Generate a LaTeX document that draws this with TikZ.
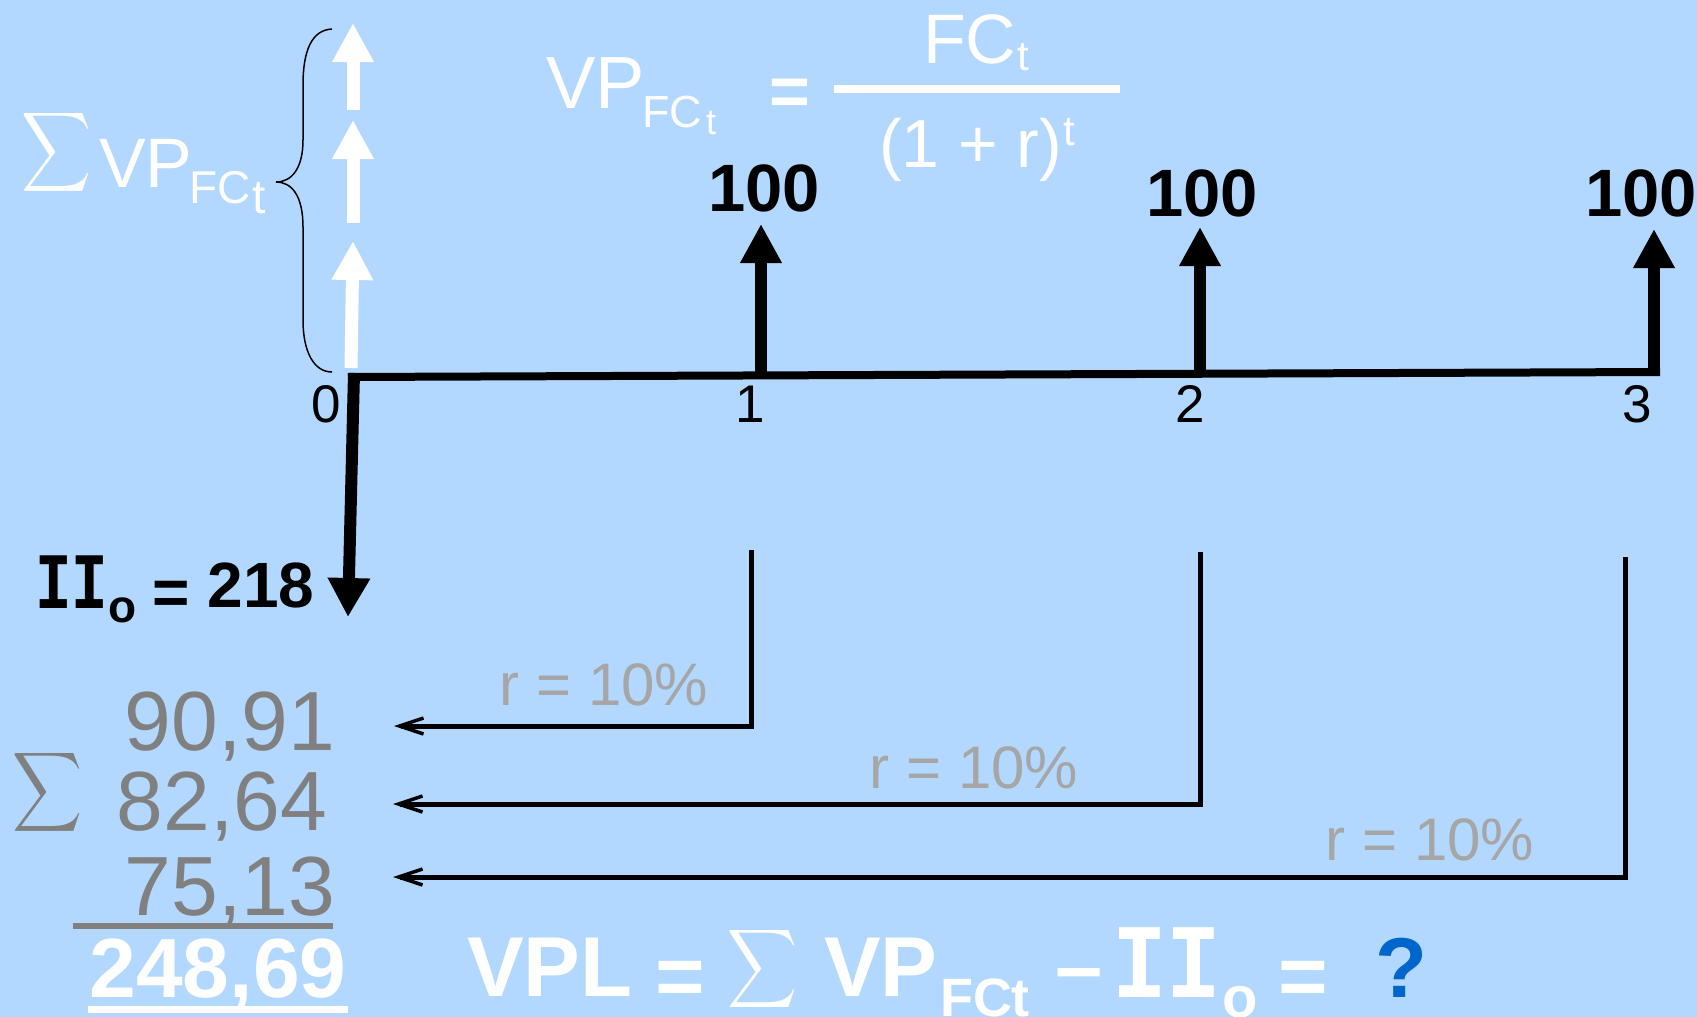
\documentclass[tikz,border=0pt]{standalone}
\usepackage{fontspec}
\setmainfont{Liberation Sans}
\newfontfamily\monofont{Liberation Mono}
\usepackage{graphicx}
\usetikzlibrary{arrows.meta}
\definecolor{bg}{RGB}{178,216,255}
\definecolor{numgray}{RGB}{128,128,128}
\definecolor{rategray}{RGB}{166,166,166}
\definecolor{qblue}{RGB}{0,102,204}
\newcommand\fsz[1]{\fontsize{#1}{#1}\selectfont}
\begin{document}
\begin{tikzpicture}[x=1pt,y=-1pt,
  txt/.style={inner sep=0pt,outer sep=0pt},
  bigup/.style={line width=12pt,-{Triangle[length=39pt,width=39pt]}},
  whiteup/.style={white,line width=13pt,-{Triangle[length=39pt,width=39pt]}},
  link/.style={line width=5pt,-{Straight Barb[length=24pt,width=16pt,line width=3.5pt]}},
]
\fill[bg] (0,0) rectangle (1697,1017);
\useasboundingbox (0,0) rectangle (1697,1017);

% ---- top-left sum of present values
\node[txt,anchor=north west,white] (sumTL) at (21,108) {\resizebox*{70pt}{89pt}{$\displaystyle\sum$}};
\node[txt,anchor=base west,white,font=\fsz{70}] (vpTL) at (99,187) {VP};
\node[txt,anchor=base west,white,font=\fsz{46}] (fcTL) at (189,203) {FC};
\node[txt,anchor=base west,white,font=\fsz{48}] (tTL) at (252,213) {t};

% brace
\coordinate (brT) at (332,29);
\coordinate (brM) at (276,182);
\coordinate (brB) at (332,372);
\draw[line width=1.5pt] (brT) .. controls (312,30) and (303,50) .. (303,85)
  -- (303,140) .. controls (303,168) and (292,182) .. (brM)
  .. controls (292,182) and (303,196) .. (303,227)
  -- (303,320) .. controls (303,352) and (314,372) .. (brB);

% white arrows
\coordinate (w1s) at (353,110); \coordinate (w1e) at (353,23);
\coordinate (w2s) at (353,223); \coordinate (w2e) at (353,120);
\coordinate (w3s) at (351,368); \coordinate (w3e) at (353,241);
\draw[whiteup] (w1s) -- (w1e);
\draw[whiteup] (w2s) -- (w2e);
\draw[whiteup] (w3s) -- (w3e);

% ---- formula
\node[txt,anchor=base west,white,font=\fsz{74}] (vpF) at (546,108) {VP};
\node[txt,anchor=base west,white,font=\fsz{45}] (fcF) at (642,127) {FC};
\node[txt,anchor=base west,white,font=\fsz{36}] (tF) at (706,134) {t};
\node[txt,white,font=\bfseries\fsz{70}] (eqF) at (790,97) {=};
\coordinate (barL) at (834,89); \coordinate (barR) at (1120,89);
\draw[white,line width=8pt] (barL) -- (barR);
\node[txt,anchor=base west,white,font=\fsz{70}] (numF) at (923,63) {FC};
\node[txt,anchor=base west,white,font=\fsz{42}] (numT) at (1017,70) {t};
\node[txt,anchor=base west,white,font=\fsz{68}] (denF) at (879,167) {(1 + r)};
\node[txt,anchor=base west,white,font=\fsz{42}] (denT) at (1063,145) {t};

% ---- time line
\coordinate (lineL) at (348,377);
\coordinate (lineR) at (1660,372);
\coordinate (t0) at (354,373);
\coordinate (t1) at (761,375.5);
\coordinate (t2) at (1200,374);
\coordinate (t3) at (1654,376);
\coordinate (d0) at (348,617);
\coordinate (u1) at (761,224);
\coordinate (u2) at (1200,227);
\coordinate (u3) at (1654,229);
\draw[line width=8pt] (lineL) -- (lineR);
\draw[line width=12pt,-{Triangle[length=39pt,width=40pt]}] (t0) -- (d0);
\draw[bigup] (t1) -- (u1);
\draw[bigup] (t2) -- (u2);
\draw[bigup] (t3) -- (u3);

\node[txt,anchor=base,font=\fsz{53}] (l0) at (326,422) {0};
\node[txt,anchor=base,font=\fsz{53}] (l1) at (750,422) {1};
\node[txt,anchor=base,font=\fsz{53}] (l2) at (1190,422) {2};
\node[txt,anchor=base,font=\fsz{53}] (l3) at (1637,422) {3};

\node[txt,anchor=base,font=\bfseries\fsz{67}] (v1) at (764,211) {100};
\node[txt,anchor=base,font=\bfseries\fsz{67}] (v2) at (1202,216) {100};
\node[txt,anchor=base,font=\bfseries\fsz{67}] (v3) at (1641,216) {100};

% ---- initial investment
\node[txt,anchor=base west,font=\monofont\bfseries\fsz{80}] (ii) at (35,608) {\scalebox{0.76}[1]{II}};
\node[txt,anchor=base west,font=\bfseries\fsz{46}] (iio) at (108,622) {o};
\node[txt,font=\bfseries\fsz{64}] (iieq) at (171,598) {=};
\node[txt,anchor=base,font=\bfseries\fsz{64}] (ii218) at (261,607) {218};

% ---- discount connectors
\coordinate (c1s) at (751,550); \coordinate (c1e) at (394,726);
\coordinate (c2s) at (1200,552); \coordinate (c2e) at (393,804);
\coordinate (c3s) at (1625,557); \coordinate (c3e) at (393,877);
\draw[link] (c1s) |- (c1e);
\draw[link] (c2s) |- (c2e);
\draw[link] (c3s) |- (c3e);
\node[txt,anchor=base,rategray,font=\fsz{60}] (r1) at (604,705) {r = 10\%};
\node[txt,anchor=base,rategray,font=\fsz{60}] (r2) at (974,788) {r = 10\%};
\node[txt,anchor=base,rategray,font=\fsz{60}] (r3) at (1430,860) {r = 10\%};

% ---- left sum
\node[txt,anchor=north west,numgray] (sumL) at (12,748) {\resizebox*{70pt}{89pt}{$\displaystyle\sum$}};
\node[txt,anchor=base east,numgray,font=\fsz{84}] (n1) at (335,750) {90,91};
\node[txt,anchor=base east,numgray,font=\fsz{84}] (n2) at (327,830) {82,64};
\node[txt,anchor=base east,numgray,font=\fsz{84}] (n3) at (335,915) {75,13};
\coordinate (g1) at (73,926); \coordinate (g2) at (333,926);
\draw[numgray,line width=6pt] (g1) -- (g2);
\node[txt,anchor=base,white,font=\bfseries\fsz{84}] (tot) at (218,997) {248,69};
\coordinate (w4) at (88,1009); \coordinate (w5) at (348,1009);
\draw[white,line width=7pt] (w4) -- (w5);

% ---- bottom formula
\node[txt,anchor=base west,white,font=\bfseries\fsz{85}] (vpl) at (467,996) {VPL};
\node[txt,white,font=\bfseries\fsz{85}] (eq1) at (680,983) {=};
\node[txt,anchor=north west,white] (sumB) at (727,925) {\resizebox*{70pt}{88pt}{$\displaystyle\sum$}};
\node[txt,anchor=base west,white,font=\bfseries\fsz{85}] (vpB) at (824,996) {VP};
\node[txt,anchor=base west,white,font=\bfseries\fsz{54}] (fcB) at (940,1016) {FCt};
\node[txt,white,font=\bfseries\fsz{85}] (minus) at (1079,982) {–};
\node[txt,anchor=base west,white,font=\monofont\bfseries\fsz{106}] (iiB) at (1112,997) {\scalebox{0.86}[1]{II}};
\node[txt,anchor=base west,white,font=\bfseries\fsz{58}] (oB) at (1222,1017) {o};
\node[txt,white,font=\bfseries\fsz{85}] (eq2) at (1303,983) {=};
\node[txt,anchor=base,qblue,font=\bfseries\fsz{85}] (q) at (1401,997) {?};
\end{tikzpicture}
\end{document}
